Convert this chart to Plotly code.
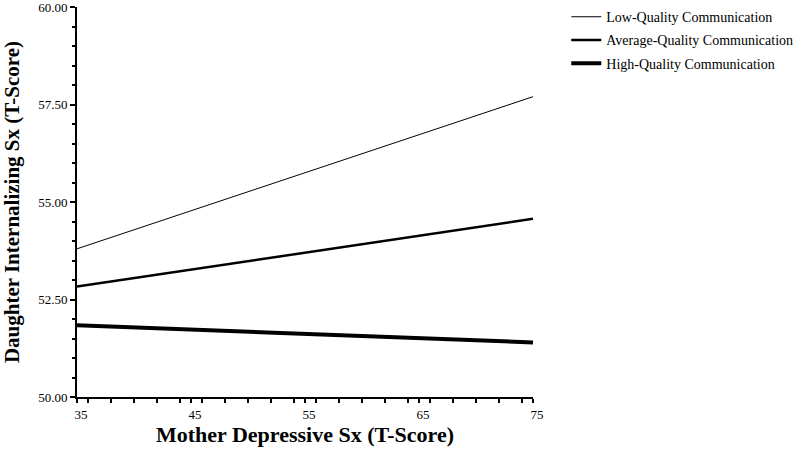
import plotly.graph_objects as go

x_vals = [35, 75]
low_quality = [53.80, 57.70]
avg_quality = [52.83, 54.57]
high_quality = [51.84, 51.40]

series_names = ["Low-Quality Communication", "Average-Quality Communication", "High-Quality Communication"]
series_values = [low_quality, avg_quality, high_quality]
series_widths = [1, 2.5, 4]

y_ticks = [50, 52.5, 55, 57.5, 60]
y_tick_labels = ["50.00", "52.50", "55.00", "57.50", "60.00"]
x_ticks = [35, 45, 55, 65, 75]

fig = go.Figure()
for i, (name, vals, w) in enumerate(zip(series_names, series_values, series_widths)):
    fig.add_trace(go.Scatter(x=x_vals, y=vals, mode="lines", name=name,
                             legendgroup=f"g{i}",
                             line=dict(color="black", width=w)))

font_family = "Liberation Serif, Times New Roman, serif"
fig.update_layout(
    width=800, height=450,
    margin=dict(l=77, r=267, t=7, b=53, autoexpand=False),
    paper_bgcolor="white", plot_bgcolor="white",
    font=dict(family=font_family, color="black"),
    legend=dict(x=1.073, y=1.015, xanchor="left", yanchor="top",
                font=dict(size=14, family=font_family, color="black"),
                tracegroupgap=2, bgcolor="rgba(0,0,0,0)"),
)
fig.update_xaxes(range=[35, 75], tickvals=x_ticks, ticktext=[str(v) for v in x_ticks],
                 automargin=False, ticklabeloverflow="allow", ticklabelshift=4,
                 showgrid=False, zeroline=False, showline=True, linecolor="black", linewidth=2,
                 ticks="outside", ticklen=4, tickwidth=1.5, tickcolor="black",
                 tickfont=dict(size=13, color="black"),
                 minor=dict(dtick=2, ticks="outside", ticklen=4, tickwidth=1.5, tickcolor="black", showgrid=False),
                 title=dict(text="<b>Mother Depressive Sx (T-Score)</b>", font=dict(size=22, color="black"), standoff=6))
fig.update_yaxes(range=[50, 60], tickvals=y_ticks, ticktext=y_tick_labels,
                 automargin=False, ticklabeloverflow="allow",
                 showgrid=False, zeroline=False, showline=True, linecolor="black", linewidth=2,
                 ticks="outside", ticklen=5, tickwidth=1.5, tickcolor="black",
                 tickfont=dict(size=13, color="black"),
                 minor=dict(dtick=0.5, ticks="outside", ticklen=3, tickwidth=1.5, tickcolor="black", showgrid=False),
                 title=dict(text="<b>Daughter Internalizing Sx (T-Score)</b>", font=dict(size=21, color="black"), standoff=14))

fig.write_html("out.html", config={"displayModeBar": False},
               post_script="document.body.style.margin='0';")
